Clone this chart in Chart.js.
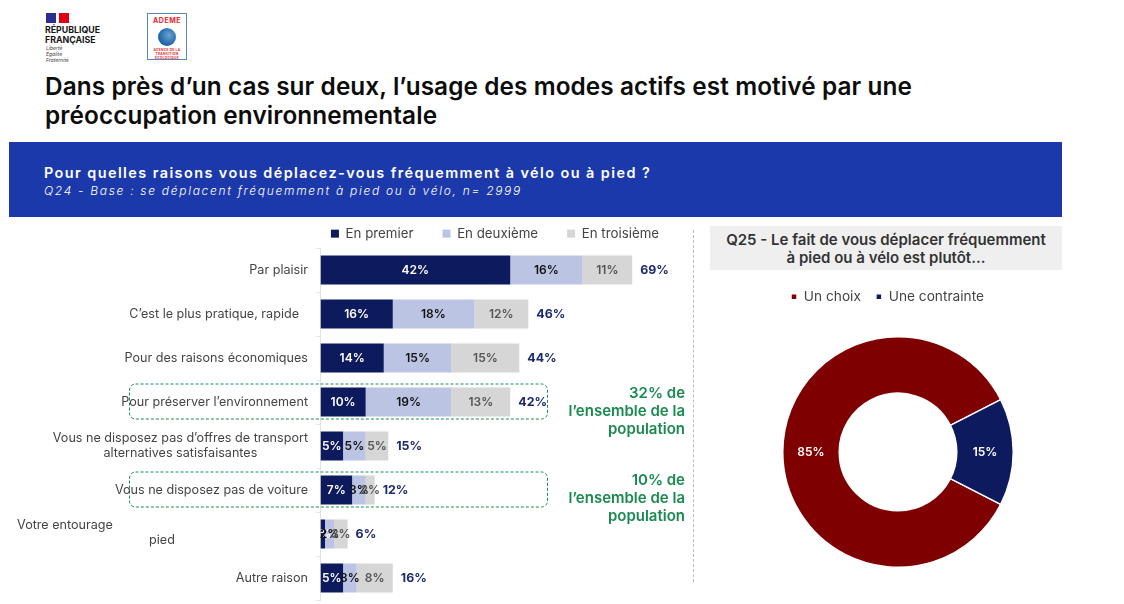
<!DOCTYPE html>
<html lang="fr">
<head>
<meta charset="utf-8">
<title>Modes actifs</title>
<script src="https://cdn.jsdelivr.net/npm/chart.js@4"></script>
<style>
    html, body { margin: 0; padding: 0; background: #fff; }
    body { width: 1124px; height: 604px; position: relative; overflow: hidden; font-family: 'Inter', 'Noto Sans', sans-serif; color: #111; }
    .abs { position: absolute; }
    h1 { position: absolute; left: 45px; top: 72px; margin: 0; font-size: 24.33px; line-height: 29px; font-weight: 600; color: #0c0c0c; white-space: nowrap; letter-spacing: .1px; }
    .band { left: 9px; top: 142px; width: 1053px; height: 75px; background: #1c39ab; color: #fff; }
    .band .q { position: absolute; left: 35px; top: 22px; font-size: 14.4px; font-weight: 600; letter-spacing: 1.44px; white-space: nowrap; }
    .band .sub { position: absolute; left: 35px; top: 41px; font-size: 12px; font-weight: 300; font-style: italic; letter-spacing: 1.7px; white-space: nowrap; }
    .note { right: 439px; width: 160px; text-align: right; color: #1a8a50; font-size: 15px; line-height: 18px; font-weight: 600; }
    .sep { left: 693px; top: 230px; height: 352px; border-left: 1px dashed #bdbdbd; }
    .q25 { left: 710px; top: 226px; width: 352px; height: 44px; background: #efefef; text-align: center; font-size: 15px; line-height: 18px; font-weight: 600; color: #333; padding-top: 5px; box-sizing: border-box; white-space: nowrap; }
    canvas { position: absolute; }
    #barWrap { position: absolute; left: 0; top: 198px; width: 700px; height: 406px; }
    #pieWrap { position: absolute; left: 776px; top: 275px; width: 244px; height: 293px; }
    .flag { left: 46px; top: 13px; width: 23px; height: 10px; background: linear-gradient(90deg, #2a2f8f 0 42%, #fff 42% 56%, #e1000f 56%); }
    .rf { left: 45px; top: 25px; font-size: 8.8px; line-height: 10px; font-weight: 700; color: #161616; }
    .devise { left: 46px; top: 45px; font-size: 5px; line-height: 6px; font-style: italic; color: #444; }
    .ademe { left: 147px; top: 13px; width: 40px; height: 47px; box-sizing: border-box; border: 1px solid #5b86b8; text-align: center; color: #e8262a; }
    .ademe .n { font-size: 7px; font-weight: 700; margin-top: 2px; letter-spacing: .5px; }
    .ademe .g { width: 18px; height: 18px; border-radius: 50%; background: radial-gradient(circle at 60% 40%, #6aa3cf, #1d66a8 65%); margin: 3px auto 3px; }
    .ademe .t { font-size: 3.2px; line-height: 3.8px; font-weight: 700; letter-spacing: .3px; white-space: nowrap; }
</style>
</head>
<body>
<div class="abs flag"></div>
<div class="abs rf">RÉPUBLIQUE<br>FRANÇAISE</div>
<div class="abs devise">Liberté<br>Égalité<br>Fraternité</div>
<div class="abs ademe">
    <div class="n">ADEME</div>
    <div class="g"></div>
    <div class="t">AGENCE DE LA<br>TRANSITION<br>ÉCOLOGIQUE</div>
</div>
<h1>Dans près d’un cas sur deux, l’usage des modes actifs est motivé par une<br>préoccupation environnementale</h1>
<div class="abs band">
    <div class="q">Pour quelles raisons vous déplacez-vous fréquemment à vélo ou à pied ?</div>
    <div class="sub">Q24 - Base : se déplacent fréquemment à pied ou à vélo, n= 2999</div>
</div>
<div id="barWrap"><canvas id="bars"></canvas></div>
<div class="abs note" style="top:384px">32% de<br>l’ensemble de la<br>population</div>
<div class="abs note" style="top:471px">10% de<br>l’ensemble de la<br>population</div>
<div class="abs sep"></div>
<div class="abs q25">Q25 - Le fait de vous déplacer fréquemment<br>à pied ou à vélo est plutôt...</div>
<div id="pieWrap"><canvas id="pie"></canvas></div>

<script>
const FONT = "'Inter', 'Noto Sans', sans-serif";

const categories = [
    ['Par plaisir'],
    ['C’est le plus pratique, rapide'],
    ['Pour des raisons économiques'],
    ['Pour préserver l’environnement'],
    ['Vous ne disposez pas d’offres de transport', 'alternatives satisfaisantes'],
    ['Vous ne disposez pas de voiture'],
    ['Votre entourage', 'pied'],
    ['Autre raison']
];
const enPremier = [42, 16, 14, 10, 5, 7, 1, 5];
const enDeuxieme = [16, 18, 15, 19, 5, 3, 2, 3];
const enTroisieme = [11, 12, 15, 13, 5, 2, 3, 8];
const totals = [69, 46, 44, 42, 15, 12, 6, 16];
const highlighted = [3, 5];

const pieLabels = ['Un choix', 'Une contrainte'];
const pieValues = [85, 15];

// the legend's vertical padding is tied to its item gap, so pin its height
function legendHeight(h) {
    return {
        id: 'legendHeight',
        beforeInit(chart) {
            const fit = chart.legend.fit;
            chart.legend.fit = function () {
                fit.call(this);
                this.height = h;
            };
        }
    };
}

// category labels, centred line by line as in the slide
const categoryLabels = {
    id: 'categoryLabels',
    afterDraw(chart) {
        const { ctx, scales: { y } } = chart;
        ctx.save();
        ctx.font = '12.6px ' + FONT;
        ctx.fillStyle = '#444';
        ctx.textBaseline = 'middle';
        ctx.textAlign = 'center';
        categories.forEach((lines, i) => {
            const yc = y.getPixelForValue(i);
            if (i === 6) {
                // this label is cut in the source slide
                ctx.fillText(lines[0], 65, yc - 8.5);
                ctx.fillText(lines[1], 162, yc + 6.5);
                return;
            }
            const w = Math.max(...lines.map(l => ctx.measureText(l).width));
            const right = i === 1 ? 299 : 308;
            lines.forEach((l, k) => {
                ctx.fillText(l, right - w / 2, yc + (k - (lines.length - 1) / 2) * 15);
            });
        });
        ctx.restore();
    }
};

const segmentLabels = {
    id: 'segmentLabels',
    afterDatasetsDraw(chart) {
        const { ctx, scales: { x, y } } = chart;
        ctx.save();
        ctx.font = '600 12px ' + FONT;
        ctx.textAlign = 'center';
        ctx.textBaseline = 'middle';
        chart.data.datasets.forEach((ds, d) => {
            ctx.fillStyle = ds.labelColor;
            chart.getDatasetMeta(d).data.forEach((bar, i) => {
                ctx.fillText(ds.data[i] + '%', (bar.x + bar.base) / 2, bar.y);
            });
        });
        // totals after the stack
        ctx.font = '700 12.4px ' + FONT;
        ctx.fillStyle = '#1d2a6d';
        ctx.textAlign = 'left';
        totals.forEach((t, i) => {
            const end = enPremier[i] + enDeuxieme[i] + enTroisieme[i];
            ctx.fillText(t + '%', x.getPixelForValue(end) + 8, y.getPixelForValue(i));
        });
        // dashed frames around the two highlighted rows
        ctx.strokeStyle = '#1a8a50';
        ctx.lineWidth = 1;
        ctx.setLineDash([3, 2]);
        highlighted.forEach(i => {
            const yc = y.getPixelForValue(i);
            ctx.beginPath();
            ctx.roundRect(129.5, yc - 18, 418, 35, 6);
            ctx.stroke();
        });
        ctx.restore();
    }
};

new Chart(document.getElementById('bars'), {
    type: 'bar',
    data: {
        labels: categories.map(c => c.join(' ')),
        datasets: [
            { label: 'En premier', data: enPremier, backgroundColor: '#0d1b5e', labelColor: '#fff' },
            { label: 'En deuxième', data: enDeuxieme, backgroundColor: '#bcc4e4', labelColor: '#111' },
            { label: 'En troisième', data: enTroisieme, backgroundColor: '#d6d6d6', labelColor: '#555' }
        ]
    },
    options: {
        indexAxis: 'y',
        responsive: true,
        maintainAspectRatio: false,
        animation: false,
        layout: { padding: { left: 290, right: 0, top: 0, bottom: 4 } },
        datasets: { bar: { categoryPercentage: 0.66, barPercentage: 1 } },
        scales: {
            x: { stacked: true, display: false, min: 0, max: 84 },
            y: {
                stacked: true,
                afterFit(scale) { scale.width = 30.5; },
                border: { color: '#e2e2e2' },
                grid: { drawOnChartArea: false, color: '#e2e2e2', tickLength: 4, offset: true },
                ticks: { display: false }
            }
        },
        plugins: {
            legend: {
                position: 'top',
                labels: { boxWidth: 8, boxHeight: 8, padding: 29, color: '#444', font: { family: FONT, size: 13.3 } }
            },
            tooltip: { enabled: false }
        }
    },
    plugins: [legendHeight(50), categoryLabels, segmentLabels]
});

const pieValueLabels = {
    id: 'pieValues',
    afterDatasetsDraw(chart) {
        const { ctx } = chart;
        ctx.save();
        ctx.font = '600 12px ' + FONT;
        ctx.fillStyle = '#fff';
        ctx.textAlign = 'center';
        ctx.textBaseline = 'middle';
        chart.getDatasetMeta(0).data.forEach((arc, i) => {
            const p = arc.tooltipPosition();
            ctx.fillText(pieValues[i] + '%', p.x, p.y);
        });
        ctx.restore();
    }
};

new Chart(document.getElementById('pie'), {
    type: 'doughnut',
    data: {
        labels: pieLabels,
        datasets: [{ data: pieValues, backgroundColor: ['#7f0000', '#0d1b5e'], borderColor: '#fff', borderWidth: 1.5 }]
    },
    options: {
        responsive: true,
        maintainAspectRatio: false,
        animation: false,
        rotation: 117,
        cutout: '51%',
        layout: { padding: 0 },
        plugins: {
            legend: {
                position: 'top',
                align: 'start',
                labels: { boxWidth: 6, boxHeight: 6, padding: 15, color: '#444', font: { family: FONT, size: 13.7 } }
            },
            tooltip: { enabled: false }
        }
    },
    plugins: [legendHeight(61), pieValueLabels]
});
</script>
</body>
</html>
